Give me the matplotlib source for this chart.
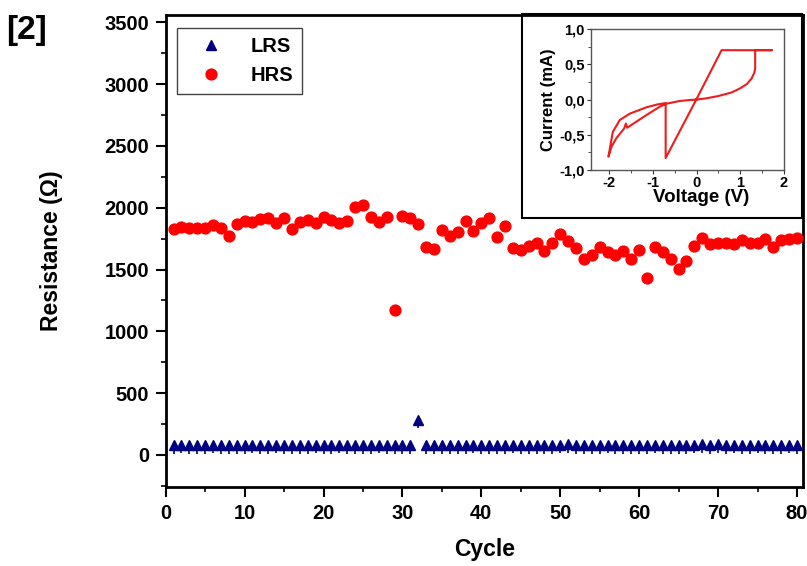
"""
Resistance of LRS / HRS states over switching cycles, with I-V inset.
"""

import matplotlib
matplotlib.use('Agg')
import matplotlib.pyplot as plt
from matplotlib.patches import Rectangle
from matplotlib.ticker import MultipleLocator, FuncFormatter

plt.rcParams['font.family'] = ['Liberation Sans', 'DejaVu Sans']
plt.rcParams['font.weight'] = 'bold'
plt.rcParams['axes.unicode_minus'] = False

# Cycle data
cycles = list(range(1, 81))
hrs = [1828, 1842, 1839, 1839, 1834, 1860, 1834, 1772, 1869, 1895,
       1887, 1906, 1915, 1879, 1917, 1828, 1887, 1901, 1874, 1923,
       1901, 1874, 1895, 2003, 2022, 1927, 1882, 1925, 1169, 1933,
       1919, 1866, 1681, 1665, 1820, 1774, 1804, 1895, 1812, 1879,
       1921, 1761, 1852, 1677, 1659, 1691, 1713, 1653, 1718, 1785,
       1734, 1672, 1584, 1619, 1681, 1645, 1619, 1651, 1584, 1659,
       1431, 1685, 1640, 1584, 1503, 1573, 1691, 1753, 1707, 1713,
       1713, 1707, 1740, 1713, 1718, 1748, 1685, 1740, 1745, 1758]
lrs = [80, 82, 80, 78, 80, 82, 80, 80, 78, 80,
       82, 80, 80, 82, 80, 80, 78, 80, 82, 80,
       80, 82, 80, 78, 80, 80, 82, 80, 80, 78,
       80, 285, 78, 80, 80, 78, 80, 80, 82, 80,
       80, 78, 80, 82, 80, 80, 78, 80, 80, 82,
       88, 80, 80, 78, 80, 82, 80, 80, 78, 80,
       80, 82, 80, 80, 78, 80, 82, 85, 80, 88,
       80, 82, 80, 80, 82, 80, 78, 80, 82, 80]

# I-V sweep for the inset (V in volts, I in mA)
volt = [0, 0.2, 0.5, 0.8, 1.0, 1.15, 1.26, 1.32, 1.34, 1.34, 1.72, 0.57,
        0, -0.71, -0.71, -0.9, -1.15, -1.53, -1.76, -1.92, -2.02,
        -1.95, -1.84, -1.66, -1.62, -1.59, -1.15, -0.84, -0.70, -0.38, -0.15, 0]
curr = [0, 0.015, 0.05, 0.10, 0.16, 0.22, 0.30, 0.38, 0.44, 0.70, 0.70, 0.70,
        0.01, -0.83, -0.05, -0.07, -0.11, -0.20, -0.29, -0.46, -0.81,
        -0.67, -0.55, -0.41, -0.34, -0.40, -0.22, -0.10, -0.06, -0.02, -0.007, 0]

fig = plt.figure(figsize=(8.07, 5.66), dpi=100)
ax = fig.add_axes([0.2053, 0.1396, 0.7901, 0.8339])

# LRS with small error bars, HRS as filled circles
ax.errorbar(cycles, lrs, yerr=[[70] * len(lrs), [0] * len(lrs)], fmt='none',
            ecolor='#000080', elinewidth=1.2, zorder=2)
ax.plot(cycles, lrs, '^', color='#000080', markersize=7.5, linestyle='none',
        label='LRS', zorder=3)
ax.plot(cycles, hrs, 'o', color='#ff0000', markersize=7.8, linestyle='none',
        label='HRS', zorder=3)

ax.set_xlim(0, 80.8)
ax.set_ylim(-260, 3560)
ax.xaxis.set_major_locator(MultipleLocator(10))
ax.xaxis.set_minor_locator(MultipleLocator(5))
ax.set_yticks(range(0, 3501, 500))
ax.yaxis.set_minor_locator(MultipleLocator(250))
ax.tick_params(which='major', direction='out', length=7, width=1.5,
               labelsize=14.5, pad=5, top=False, right=False)
ax.tick_params(which='minor', direction='out', length=3.5, width=1.2,
               top=False, right=False)
for sp in ax.spines.values():
    sp.set_linewidth(2)
for lab in ax.get_xticklabels() + ax.get_yticklabels():
    lab.set_fontweight('bold')

ax.set_xlabel('Cycle', fontsize=16.5, fontweight='bold', labelpad=11)
ax.set_ylabel('Resistance (\u03a9)', fontsize=16.5, fontweight='bold', labelpad=30)

leg = ax.legend(loc='upper left', bbox_to_anchor=(0.018, 0.973), borderaxespad=0,
                prop={'size': 14.5, 'weight': 'bold'}, fancybox=False,
                edgecolor='#444444', framealpha=1, handletextpad=0.7,
                borderpad=0.45, handlelength=2.5, labelspacing=0.5)
leg.get_frame().set_linewidth(1.0)

fig.text(0.008, 0.973, '[2]', fontsize=24, fontweight='bold', va='top', ha='left')

# Frame around the inset
fig.patches.append(Rectangle((0.6465, 0.615), 0.3473, 0.3597, transform=fig.transFigure,
                             fill=False, edgecolor='black', linewidth=1.5, zorder=2))

# Inset: I-V curve
ins = fig.add_axes([0.7323, 0.6996, 0.2392, 0.2491], zorder=3)
ins.plot(volt, curr, color='#ee1c1c', linewidth=1.5)
ins.set_xlim(-2.42, 2.0)
ins.set_ylim(-1.0, 1.0)
ins.xaxis.set_major_locator(MultipleLocator(1))
ins.xaxis.set_minor_locator(MultipleLocator(0.5))
ins.yaxis.set_major_locator(MultipleLocator(0.5))
ins.yaxis.set_minor_locator(MultipleLocator(0.25))
ins.yaxis.set_major_formatter(FuncFormatter(lambda v, p: f'{v:.1f}'.replace('.', ',')))
ins.tick_params(which='major', direction='out', length=3, width=0.8, labelsize=10.5,
                pad=1.5, colors='#333333', labelcolor='black')
ins.tick_params(which='minor', direction='out', length=2, width=0.6, colors='#333333')
for sp in ins.spines.values():
    sp.set_color('#555555')
    sp.set_linewidth(1.0)
for lab in ins.get_xticklabels() + ins.get_yticklabels():
    lab.set_fontweight('bold')
ins.set_xlabel('Voltage (V)', fontsize=13.5, fontweight='bold')
ins.xaxis.set_label_coords(0.57, -0.135)
ins.set_ylabel('Current (mA)', fontsize=12, fontweight='bold', labelpad=2)

fig.savefig('out.png', dpi=100)
